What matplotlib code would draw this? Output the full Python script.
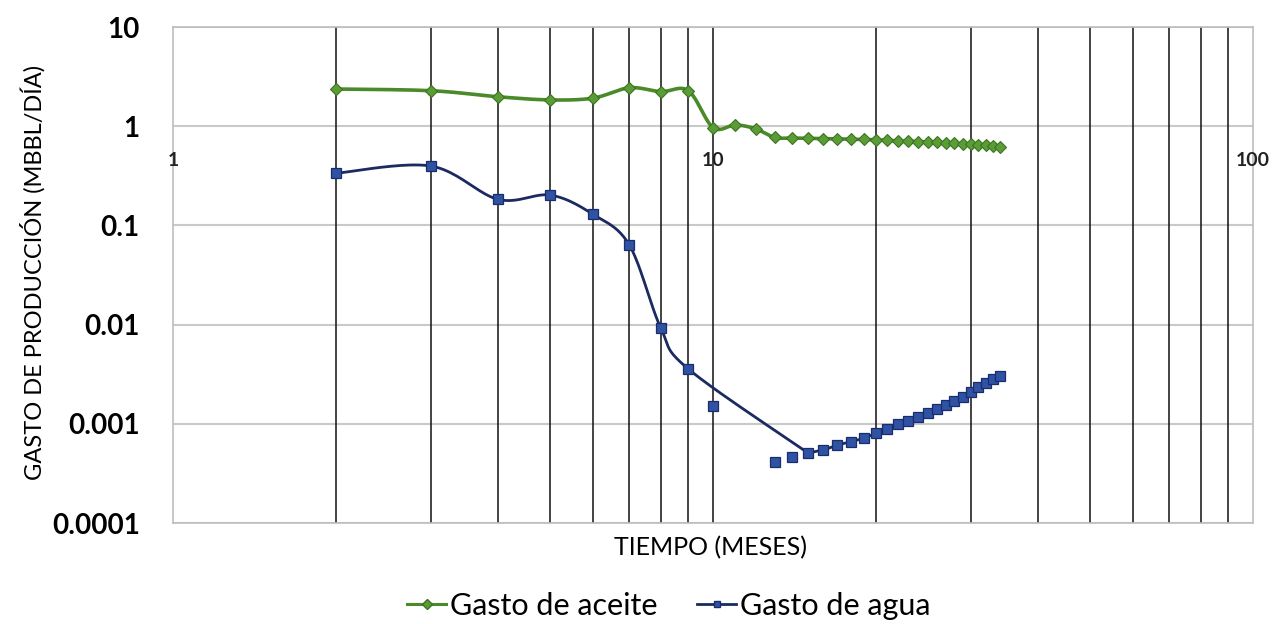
import numpy as np
import matplotlib
matplotlib.use("Agg")
import matplotlib.pyplot as plt
from matplotlib.lines import Line2D

# ---- data ----
months_oil = list(range(2, 35))
oil_rate = [2.37, 2.28, 1.98, 1.84, 1.92, 2.44, 2.23, 2.28, 0.97, 1.03, 0.94,
            0.77, 0.76, 0.755, 0.75, 0.745, 0.74, 0.735, 0.73, 0.72, 0.71,
            0.705, 0.70, 0.69, 0.685, 0.68, 0.67, 0.665, 0.66, 0.65, 0.64,
            0.63, 0.62]

months_water = [2, 3, 4, 5, 6, 7, 8, 9, 10] + list(range(13, 35))
water_rate = [0.335, 0.397, 0.183, 0.202, 0.129, 0.0634, 0.0093, 0.00357,
              0.00151, 0.000412, 0.000463, 0.000508, 0.000545, 0.00061,
              0.00066, 0.000714, 0.0008, 0.00088, 0.00099, 0.00107, 0.00116,
              0.00129, 0.00142, 0.00155, 0.00171, 0.00188, 0.00211, 0.00237,
              0.0026, 0.00281, 0.00303]
# months whose water markers are not joined by the line
water_unlinked = [10, 13, 14]
# the joined water line breaks its smoothing at this month
water_break = 15

y_ticks = [10, 1, 0.1, 0.01, 0.001, 0.0001]
y_tick_labels = ["10", "1", "0.1", "0.01", "0.001", "0.0001"]
x_tick_vals = [1, 10, 100]
x_tick_labels = ["1", "10", "100"]
vlines = [2, 3, 4, 5, 6, 7, 8, 9, 10, 20, 30, 40, 50, 60, 70, 80, 90]

FONT = "Lato"
GREEN_L = "#4a8a2a"
GREEN_M = "#5b9c36"
GREEN_E = "#3b7420"
BLUE_L = "#1b2a60"
BLUE_M = "#2f52a3"
BLUE_E = "#1a2c6c"


def smooth(xs, ys, n=24):
    lx = np.log10(np.asarray(xs, float))
    ly = np.log10(np.asarray(ys, float))
    P = np.column_stack([lx, ly])
    out = [P[0]]
    m = len(P)
    for i in range(m - 1):
        p0 = P[i - 1] if i > 0 else P[i]
        p1 = P[i]
        p2 = P[i + 1]
        p3 = P[i + 2] if i + 2 < m else P[i + 1]
        c1 = p1 + (p2 - p0) / 6.0
        c2 = p2 - (p3 - p1) / 6.0
        t = np.linspace(0, 1, n)[1:, None]
        seg = ((1 - t) ** 3) * p1 + 3 * ((1 - t) ** 2) * t * c1 + 3 * (1 - t) * t ** 2 * c2 + t ** 3 * p2
        out.extend(seg)
    out = np.array(out)
    return 10 ** out[:, 0], 10 ** out[:, 1]


fig = plt.figure(figsize=(12.78, 6.24), dpi=100)
ax = fig.add_axes([173 / 1278, 1 - 523 / 624, (1253 - 173) / 1278, (523 - 27) / 624])
ax.set_xscale("log")
ax.set_yscale("log")
ax.set_xlim(1, 100)
ax.set_ylim(0.0001, 10)

# gridlines
for yv in y_ticks:
    ax.axhline(yv, color="#c9c9c9", lw=1.5, zorder=1)
for xv in vlines:
    ax.axvline(xv, color="#111111", lw=1.1, zorder=2)

for s in ax.spines.values():
    s.set_color("#bdbdbd")
    s.set_linewidth(1.2)

# oil series
sx, sy = smooth(months_oil, oil_rate)
ax.plot(sx, sy, color=GREEN_L, lw=2.6, zorder=3, solid_capstyle="round")
ax.plot(months_oil, oil_rate, ls="none", marker="D", ms=6.5, mfc=GREEN_M,
        mec=GREEN_E, mew=0.8, zorder=4)

# water series
lx = [m for m in months_water if m not in water_unlinked]
ly = [v for m, v in zip(months_water, water_rate) if m not in water_unlinked]
k = lx.index(water_break)
for a, b in ((0, k + 1), (k, len(lx))):
    wx, wy = smooth(lx[a:b], ly[a:b])
    ax.plot(wx, wy, color=BLUE_L, lw=2.0, zorder=3, solid_capstyle="round",
            solid_joinstyle="round")
ax.plot(months_water, water_rate, ls="none", marker="s", ms=7, mfc=BLUE_M,
        mec=BLUE_E, mew=0.9, zorder=4)

# ticks
ax.set_yticks(y_ticks)
ax.set_yticklabels(y_tick_labels, fontfamily=FONT, fontweight="bold", fontsize=20)
ax.yaxis.set_minor_locator(matplotlib.ticker.NullLocator())
ax.xaxis.set_minor_locator(matplotlib.ticker.NullLocator())
ax.tick_params(axis="y", length=0, pad=24)
ax.set_xticks([])

for xv, lab in zip(x_tick_vals, x_tick_labels):
    ax.annotate(lab, xy=(xv, 1), xytext=(0, -34), textcoords="offset pixels",
                ha="center", va="center", fontfamily=FONT, fontweight="bold",
                fontsize=14, color="#222222", zorder=5)

fig.text(33 / 1278, 1 - 272 / 624, "GASTO DE PRODUCCIÓN (MBBL/DÍA)", rotation=90,
         ha="center", va="center", fontfamily=FONT, fontsize=17, color="#000000")
fig.text(711 / 1278, 1 - 548 / 624, "TIEMPO (MESES)", ha="center", va="center",
         fontfamily=FONT, fontsize=18, color="#000000")

handles = [
    Line2D([], [], color=GREEN_L, lw=2.2, marker="D", ms=5, mfc=GREEN_M, mec=GREEN_E),
    Line2D([], [], color=BLUE_L, lw=2.0, marker="s", ms=5, mfc=BLUE_M, mec=BLUE_E),
]
fig.legend(handles, ["Gasto de aceite", "Gasto de agua"], loc="center",
           bbox_to_anchor=(0.523, 1 - 606 / 624), ncol=2, frameon=False,
           prop={"family": FONT, "size": 22}, handlelength=1.3, handletextpad=0.1,
           columnspacing=1.3, labelcolor="#000000")

fig.savefig("out.png", dpi=100)
